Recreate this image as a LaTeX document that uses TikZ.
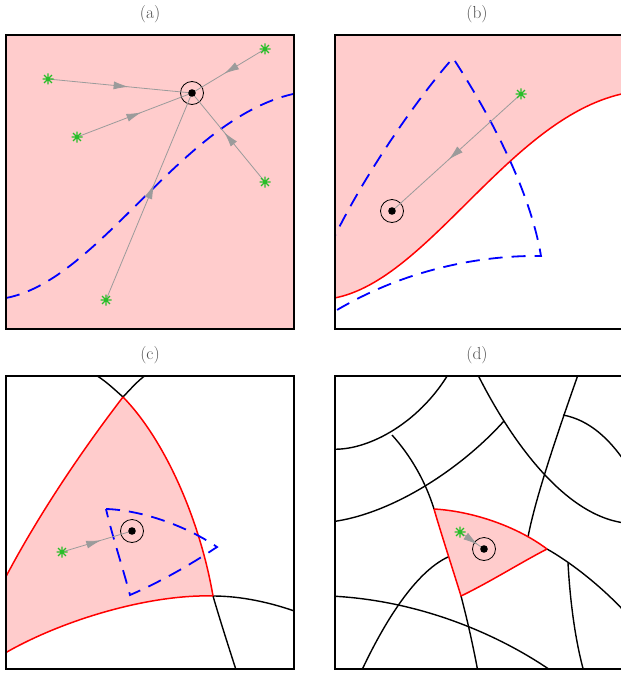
\documentclass[tikz,border=0pt]{standalone}
\usepackage{fontspec}
\usetikzlibrary{arrows.meta,decorations.markings}
\definecolor{pinkfill}{RGB}{255,204,204}
\definecolor{stargreen}{RGB}{40,190,40}
\definecolor{linkgray}{RGB}{155,155,155}
\definecolor{labgray}{RGB}{80,80,80}
\newcommand{\labfont}{\fontsize{17.5}{21}\selectfont}
\tikzset{
  frame/.style={draw=black, line width=2bp},
  bdash/.style={draw=blue, line width=1.8bp, dash pattern=on 14bp off 9bp},
  redline/.style={draw=red, line width=1.5bp},
  blackline/.style={draw=black, line width=1.4bp},
  lab/.style={font=\labfont, text=labgray, inner sep=0pt},
  starmark/.style={inner sep=0pt, outer sep=0pt, minimum size=10bp},
  starline/.style={draw=stargreen, line width=1.1bp},
  target/.style={circle, draw=black, line width=0.8bp, minimum size=23bp, inner sep=0pt},
  link/.style={draw=linkgray, line width=0.8bp,
    postaction={decorate, decoration={markings,
      mark=at position #1 with {\arrow[linkgray]{Latex[length=15bp,width=8bp]}}}}},
  link/.default=0.56
}
\begin{document}
\begin{tikzpicture}[x=1bp, y=-1bp]
\useasboundingbox (0,0) rectangle (621,675);

% ---------------- labels
\node[lab] (la) at (150,14) {(a)};
\node[lab] (lb) at (477,14) {(b)};
\node[lab] (lc) at (150,355) {(c)};
\node[lab] (ld) at (477,355) {(d)};

% ---------------- panel (a)
\fill[pinkfill] (6,35) rectangle (293.5,328.5);
\begin{scope}
  \clip (6,35) rectangle (293.5,328.5);
  \draw[bdash] (6,298) .. controls (100,280) and (180,120) .. (293,94);
\end{scope}
\node[target] (ca) at (192,93) {};
\node[starmark] (sa1) at (48,79) {};
\node[starmark] (sa2) at (77,137) {};
\node[starmark] (sa3) at (265,49) {};
\node[starmark] (sa4) at (265,182) {};
\node[starmark] (sa5) at (106,300) {};
\foreach \s in {sa1,sa2,sa3,sa4,sa5} \draw[link] (\s.center) -- (ca.center);
\fill (ca.center) circle (3.8bp);
\draw[frame] (6,35) rectangle (293.5,328.5);

% ---------------- panel (b)
\begin{scope}
  \clip (334.5,35) rectangle (622,328.5);
  \fill[pinkfill] (334.5,35) -- (622,35) -- (622,94) -- (621.5,94)
     .. controls (508.5,120) and (428.5,280) .. (334.5,298) -- cycle;
  \draw[redline] (334.5,298) .. controls (428.5,280) and (508.5,120) .. (621.5,94);
  \draw[bdash] (320,268) .. controls (355,185) and (420,95) .. (453,58)
     .. controls (490,115) and (530,190) .. (541,256)
     .. controls (480,255) and (395,270) .. (318,322);
\end{scope}
\node[target] (cb) at (392,211) {};
\node[starmark] (sb1) at (521,94) {};
\draw[link] (sb1.center) -- (cb.center);
\fill (cb.center) circle (3.8bp);
\draw[frame] (334.5,35) rectangle (622,328.5);

% ---------------- panel (c)
\begin{scope}
  \clip (6,376) rectangle (293.5,669);
  \fill[pinkfill] (123,397) .. controls (165,440) and (200,520) .. (213,596)
     .. controls (150,594) and (60,620) .. (0,656) -- (0,588)
     .. controls (40,510) and (90,440) .. (123,397) -- cycle;
  \draw[blackline] (86,369) .. controls (104,380) .. (123,397);
  \draw[blackline] (152,370) .. controls (138,381) .. (123,397);
  \draw[blackline] (213,596) .. controls (240,596) and (270,602) .. (300,613);
  \draw[blackline] (213,596) .. controls (220,620) and (228,645) .. (238,676);
  \draw[redline] (123,397) .. controls (165,440) and (200,520) .. (213,596);
  \draw[redline] (213,596) .. controls (150,594) and (60,620) .. (0,656);
  \draw[redline] (0,588) .. controls (40,510) and (90,440) .. (123,397);
  \draw[bdash] (106,509) .. controls (140,510) and (185,525) .. (217,547)
     .. controls (190,565) and (160,582) .. (130,595)
     .. controls (122,565) and (112,535) .. (106,509) -- cycle;
\end{scope}
\node[target] (cc) at (132,531) {};
\node[starmark] (sc1) at (62,552) {};
\draw[link] (sc1.center) -- (cc.center);
\fill (cc.center) circle (3.8bp);
\draw[frame] (6,376) rectangle (293.5,669);

% ---------------- panel (d)
\begin{scope}
  \clip (334.5,376) rectangle (622,669);
  \fill[pinkfill] (434,509) .. controls (470,511) and (515,525) .. (547,549)
     .. controls (520,563) and (490,582) .. (461,596)
     .. controls (453,570) and (440,530) .. (434,509) -- cycle;
  \draw[blackline] (330,449) .. controls (365,452) and (418,425) .. (449,373);
  \draw[blackline] (392,435) .. controls (410,455) and (425,480) .. (434,509);
  \draw[blackline] (461,596) .. controls (466,615) and (472,640) .. (478,672);
  \draw[blackline] (330,522) .. controls (390,515) and (460,470) .. (504,421);
  \draw[blackline] (476,371) .. controls (505,430) and (560,515) .. (625,523);
  \draw[blackline] (579,372) .. controls (555,440) and (535,500) .. (528,537);
  \draw[blackline] (563,415) .. controls (590,420) and (610,440) .. (625,462);
  \draw[blackline] (547,549) .. controls (570,562) and (600,585) .. (625,612);
  \draw[blackline] (568,563) .. controls (570,600) and (575,640) .. (584,672);
  \draw[blackline] (448,557) .. controls (420,570) and (390,610) .. (361,672);
  \draw[blackline] (330,596) .. controls (420,600) and (500,635) .. (553,672);
  \draw[redline] (434,509) .. controls (470,511) and (515,525) .. (547,549);
  \draw[redline] (547,549) .. controls (520,563) and (490,582) .. (461,596);
  \draw[redline] (461,596) .. controls (453,570) and (440,530) .. (434,509);
\end{scope}
\node[target] (cd) at (484,549) {};
\node[starmark] (sd1) at (460,532) {};
\draw[link=0.75] (sd1.center) -- (cd.center);
\fill (cd.center) circle (3.8bp);
\draw[frame] (334.5,376) rectangle (622,669);

% ---------------- star glyphs
\foreach \s in {sa1,sa2,sa3,sa4,sa5,sb1,sc1,sd1}
  \draw[starline] (\s.center) +(-5.5,0) -- +(5.5,0) +(0,-5.5) -- +(0,5.5)
    +(-3.9,-3.9) -- +(3.9,3.9) +(-3.9,3.9) -- +(3.9,-3.9);
\end{tikzpicture}
\end{document}
